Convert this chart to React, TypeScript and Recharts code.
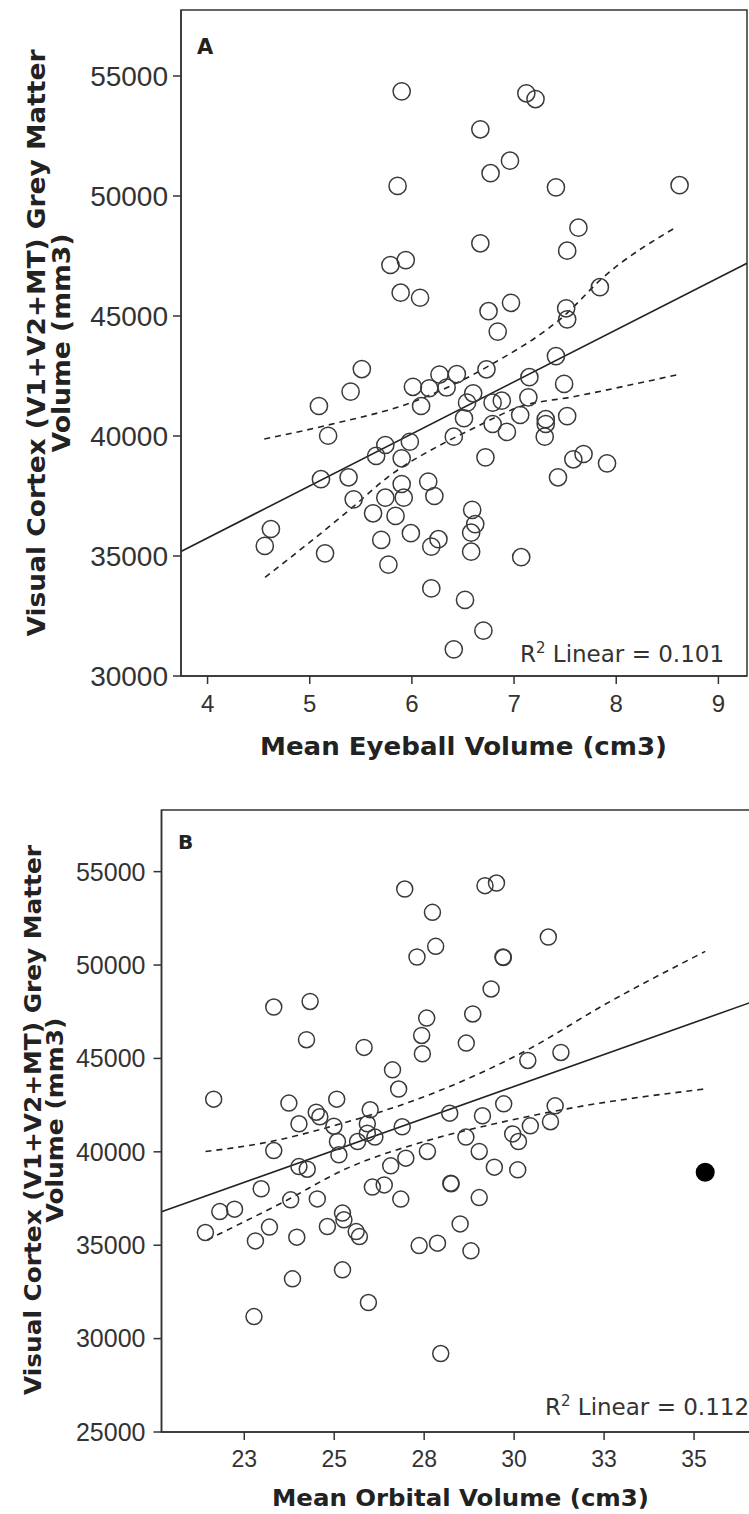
import { ReferenceArea, ReferenceLine, Scatter, ScatterChart, XAxis, YAxis } from "recharts";

// ---- Panel A: eyeball volume vs visual cortex volume ----
const eyeballVolume = [
  5.9, 7.12, 7.21, 6.67, 6.96, 6.77, 5.86, 7.41, 8.62, 7.63,
  7.52, 6.67, 5.79, 5.94, 7.84, 5.89, 6.08, 6.97, 6.75, 6.84,
  7.51, 7.52, 7.41, 5.51, 6.73, 6.44, 6.27, 7.15, 7.49, 5.4,
  6.01, 6.17, 6.34, 6.6, 6.54, 6.79, 6.88, 7.14, 6.09, 5.09,
  6.51, 7.06, 7.31, 7.31, 7.3, 7.52, 6.79, 6.93, 6.41, 5.18,
  5.74, 5.65, 5.98, 5.9, 6.72, 7.68, 7.58, 7.91, 5.11, 5.38,
  7.43, 5.9, 6.16, 5.43, 5.74, 5.92, 6.22, 5.62, 5.84, 6.59,
  6.62, 6.58, 4.62, 4.56, 5.7, 5.99, 6.19, 6.26, 6.58, 5.15,
  7.07, 5.77, 6.19, 6.52, 6.7, 6.41,
];
const cortexA = [
  54360, 54280, 54040, 52780, 51470, 50950, 50420, 50360, 50450, 48680,
  47720, 48030, 47125, 47330, 46200, 45970, 45760, 45550, 45200, 44350,
  45320, 44860, 43330, 42790, 42780, 42580, 42560, 42450, 42170, 41850,
  42050, 41990, 42020, 41780, 41390, 41390, 41470, 41610, 41250, 41250,
  40740, 40875, 40700, 40500, 39970, 40830, 40500, 40170, 39970, 40010,
  39625, 39170, 39760, 39070, 39110, 39250, 39030, 38860, 38200, 38280,
  38280, 38000, 38100, 37360, 37430, 37430, 37500, 36780, 36670, 36920,
  36330, 35970, 36125, 35420, 35670, 35950, 35390, 35700, 35180, 35110,
  34950, 34640, 33650, 33170, 31890, 31110,
];
const eyeballTicks = [4, 5, 6, 7, 8, 9];
const cortexTicksA = [30000, 35000, 40000, 45000, 50000, 55000];
const fitAx = [3.74, 9.28];
const fitAy = [35190, 47200];
const upperAx = [4.555, 5.18, 6.015, 6.769, 7.517, 7.844, 8.578];
const upperAy = [39875, 40458, 41429, 42958, 45113, 46500, 48679];
const lowerAx = [4.563, 5.426, 5.75, 6.34, 6.603, 7.06, 7.582, 8.629];
const lowerAy = [34113, 37054, 38238, 39763, 40321, 41221, 41638, 42583];

// ---- Panel B: orbital volume vs visual cortex volume ----
const orbitalVolume = [
  26.96, 27.73, 29.19, 29.51, 27.3, 27.82, 30.95, 29.69, 29.7, 23.32,
  24.33, 24.23, 25.83, 27.57, 27.43, 27.45, 29.36, 28.85, 28.67, 30.38,
  31.3, 26.62, 26.79, 21.65, 23.74, 25.07, 24.5, 24.6, 26.0, 24.02,
  24.99, 25.92, 26.89, 28.21, 29.71, 29.12, 31.14, 31.01, 30.45, 23.32,
  25.09, 25.13, 25.65, 25.92, 26.13, 24.02, 24.25, 26.57, 26.99, 27.59,
  22.97, 26.06, 26.39, 26.85, 21.82, 22.23, 23.79, 24.53, 25.23, 25.27,
  21.42, 23.2, 24.81, 25.61, 25.7, 22.81, 23.96, 27.36, 27.87, 25.23,
  23.84, 25.95, 22.77, 27.96, 28.66, 29.96, 30.12, 29.03, 29.45, 30.1,
  28.24, 28.25, 29.03, 28.5, 28.8,
];
const cortexB = [
  54070, 52820, 54250, 54390, 50430, 51000, 51500, 50430, 50400, 47750,
  48050, 46000, 45590, 47160, 46230, 45250, 48720, 47380, 45820, 44890,
  45320, 44390, 43360, 42820, 42610, 42820, 42120, 41875, 42250, 41500,
  41370, 41500, 41340, 42070, 42570, 41930, 42460, 41610, 41390, 40070,
  40550, 39840, 40550, 41000, 40790, 39210, 39070, 39250, 39660, 40020,
  38020, 38110, 38230, 37470, 36800, 36930, 37430, 37480, 36720, 36360,
  35680, 35970, 36000, 35730, 35460, 35230, 35430, 34980, 35110, 33680,
  33200, 31930, 31180, 29200, 40790, 40960, 40550, 40020, 39180, 39035,
  38320, 38290, 37550, 36140, 34700,
];
const outlierOrbital = [35.31];
const outlierCortex = [38910];
const orbitalTicks = [22.5, 25, 27.5, 30, 32.5, 35];
const orbitalTickLabels = ["23", "25", "28", "30", "33", "35"];
const cortexTicksB = [25000, 30000, 35000, 40000, 45000, 50000, 55000];
const fitBx = [20.2, 37.5];
const fitBy = [36795, 48632];
const upperBx = [21.423, 23.24, 24.994, 27.871, 30.376, 32.508, 35.311];
const upperBy = [40016, 40551, 41400, 43230, 45464, 47875, 50730];
const lowerBx = [21.47, 23.558, 25.367, 27.499, 29.541, 31.582, 35.339];
const lowerBy = [35286, 37284, 39127, 40551, 41537, 42341, 43375];

const zip = (xs: number[], ys: number[]) => xs.map((x, i) => ({ x, y: ys[i] }));

const INK = "#333";
const TICK_FONT = "Liberation Sans";
const TITLE_FONT = "DejaVu Sans";

const openCircle = (r: number) => (p: any) =>
  <circle cx={p.cx} cy={p.cy} r={r} fill="none" stroke="#3a3a3a" strokeWidth={1.5} />;
const noDot = () => <g />;

const bandLine = { stroke: "#222", strokeWidth: 1.6, strokeDasharray: "6 5" };

function PanelA() {
  const xDomain: [number, number] = [3.74, 9.28];
  const yDomain: [number, number] = [30000, 57750];
  return (
    <ScatterChart width={749} height={780} margin={{ top: 10, right: 2, bottom: 64, left: 101 }}>
      <XAxis
        type="number"
        dataKey="x"
        domain={xDomain}
        ticks={eyeballTicks}
        interval={0}
        allowDataOverflow
        height={40}
        tickSize={8}
        tickMargin={11}
        tick={{ fill: INK, fontSize: 24, fontFamily: TICK_FONT }}
        tickLine={{ stroke: INK, strokeWidth: 1.5 }}
        axisLine={{ stroke: INK, strokeWidth: 1.5 }}
      />
      <YAxis
        type="number"
        dataKey="y"
        domain={yDomain}
        ticks={cortexTicksA}
        interval={0}
        allowDataOverflow
        width={80}
        tickSize={8}
        tickMargin={5}
        tick={{ fill: INK, fontSize: 28, fontFamily: TICK_FONT }}
        tickLine={{ stroke: INK, strokeWidth: 1.5 }}
        axisLine={{ stroke: INK, strokeWidth: 1.5 }}
      />
      <ReferenceArea x1={xDomain[0]} x2={xDomain[1]} y1={yDomain[0]} y2={yDomain[1]} fill="none" stroke={INK} strokeWidth={1.5} fillOpacity={0} />
      <ReferenceLine segment={zip(fitAx, fitAy)} stroke="#222" strokeWidth={1.6} />
      <Scatter data={zip(upperAx, upperAy)} line={bandLine} lineJointType="monotoneX" shape={noDot} isAnimationActive={false} />
      <Scatter data={zip(lowerAx, lowerAy)} line={bandLine} lineJointType="monotoneX" shape={noDot} isAnimationActive={false} />
      <Scatter data={zip(eyeballVolume, cortexA)} shape={openCircle(8.6)} isAnimationActive={false} />
    </ScatterChart>
  );
}

function PanelB() {
  const xDomain: [number, number] = [20.2, 37.5];
  const yDomain: [number, number] = [25000, 58300];
  return (
    <ScatterChart width={786} height={734} margin={{ top: 30, right: 2, bottom: 42, left: 81.5 }}>
      <XAxis
        type="number"
        dataKey="x"
        domain={xDomain}
        ticks={orbitalTicks}
        interval={0}
        allowDataOverflow
        height={40}
        tickSize={8}
        tickMargin={11}
        tickFormatter={(v: number) => orbitalTickLabels[orbitalTicks.indexOf(v)]}
        tick={{ fill: INK, fontSize: 23, fontFamily: TICK_FONT }}
        tickLine={{ stroke: INK, strokeWidth: 1.5 }}
        axisLine={{ stroke: INK, strokeWidth: 1.5 }}
      />
      <YAxis
        type="number"
        dataKey="y"
        domain={yDomain}
        ticks={cortexTicksB}
        interval={0}
        allowDataOverflow
        width={80}
        tickSize={8}
        tickMargin={8}
        tick={{ fill: INK, fontSize: 25, fontFamily: TICK_FONT }}
        tickLine={{ stroke: INK, strokeWidth: 1.5 }}
        axisLine={{ stroke: INK, strokeWidth: 1.5 }}
      />
      <ReferenceArea x1={xDomain[0]} x2={xDomain[1]} y1={yDomain[0]} y2={yDomain[1]} fill="none" stroke={INK} strokeWidth={1.5} fillOpacity={0} />
      <ReferenceLine segment={zip(fitBx, fitBy)} stroke="#222" strokeWidth={1.6} />
      <Scatter data={zip(upperBx, upperBy)} line={bandLine} lineJointType="monotoneX" shape={noDot} isAnimationActive={false} />
      <Scatter data={zip(lowerBx, lowerBy)} line={bandLine} lineJointType="monotoneX" shape={noDot} isAnimationActive={false} />
      <Scatter data={zip(orbitalVolume, cortexB)} shape={openCircle(8)} isAnimationActive={false} />
      <Scatter
        data={zip(outlierOrbital, outlierCortex)}
        shape={(p: any) => <circle cx={p.cx} cy={p.cy} r={9.5} fill="#000" />}
        isAnimationActive={false}
      />
    </ScatterChart>
  );
}

function Titles() {
  const bold = { fontFamily: TITLE_FONT, fontWeight: 700, fill: "#222" } as const;
  const r2 = { fontFamily: TITLE_FONT, fill: "#333", fontSize: 23 } as const;
  return (
    <svg width={749} height={1514} style={{ position: "absolute", left: 0, top: 0, pointerEvents: "none" }}>
      <text x={197} y={54} fontSize={21} {...bold}>A</text>
      <text x={178} y={849} fontSize={20} {...bold}>B</text>

      <text x={463.5} y={755} fontSize={24} textAnchor="middle" textLength={407} lengthAdjust="spacingAndGlyphs" {...bold}>
        Mean Eyeball Volume (cm3)
      </text>
      <text transform="translate(45,343) rotate(-90)" fontSize={24} textAnchor="middle" textLength={587} lengthAdjust="spacingAndGlyphs" {...bold}>
        Visual Cortex (V1+V2+MT) Grey Matter
      </text>
      <text transform="translate(70,343) rotate(-90)" fontSize={24} textAnchor="middle" textLength={219} lengthAdjust="spacingAndGlyphs" {...bold}>
        Volume (mm3)
      </text>

      <text x={460.5} y={1506} fontSize={22.5} textAnchor="middle" textLength={377} lengthAdjust="spacingAndGlyphs" {...bold}>
        Mean Orbital Volume (cm3)
      </text>
      <text transform="translate(41,1120) rotate(-90)" fontSize={22.5} textAnchor="middle" textLength={550} lengthAdjust="spacingAndGlyphs" {...bold}>
        Visual Cortex (V1+V2+MT) Grey Matter
      </text>
      <text transform="translate(63,1120) rotate(-90)" fontSize={22.5} textAnchor="middle" textLength={205} lengthAdjust="spacingAndGlyphs" {...bold}>
        Volume (mm3)
      </text>

      <text x={520} y={662} {...r2}>
        R<tspan dy={-9} fontSize={15}>2</tspan>
        <tspan dy={9}> Linear = 0.101</tspan>
      </text>
      <text x={545} y={1415} {...r2}>
        R<tspan dy={-9} fontSize={15}>2</tspan>
        <tspan dy={9}> Linear = 0.112</tspan>
      </text>
    </svg>
  );
}

export default function App() {
  return (
    <div style={{ position: "absolute", left: 0, top: 0, width: 749, height: 1514, overflow: "hidden", background: "#fff" }}>
      <div style={{ position: "absolute", left: 0, top: 0 }}>
        <PanelA />
      </div>
      <div style={{ position: "absolute", left: 0, top: 780 }}>
        <PanelB />
      </div>
      <Titles />
    </div>
  );
}
